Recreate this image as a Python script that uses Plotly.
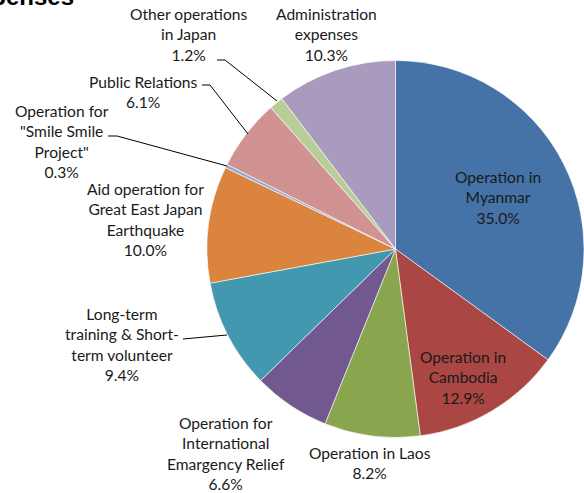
import plotly.graph_objects as go

W, H = 584, 493

categories = [
    "Operation in<br>Myanmar",
    "Operation in<br>Cambodia",
    "Operation in Laos",
    "Operation for<br>International<br>Emargency Relief",
    "Long-term<br>training & Short-<br>term volunteer",
    "Aid operation for<br>Great East Japan<br>Earthquake",
    "Operation for<br>\"Smile Smile<br>Project\"",
    "Public Relations",
    "Other operations<br>in Japan",
    "Administration<br>expenses",
]
values = [35.0, 12.9, 8.2, 6.6, 9.4, 10.0, 0.3, 6.1, 1.2, 10.3]
colors = ["#4572A7", "#AA4643", "#89A54E", "#71588F", "#4198AF",
          "#DB843D", "#93A9CF", "#D19392", "#B9CD96", "#A99BBD"]

# label block centers (pixels)
label_pos = [(498, 197), (463, 377), (370, 463), (226, 453), (122, 344),
             (145, 220), (62, 141), (143, 92), (188, 34), (326, 34)]

# leader lines (pixels)
leaders = [
    None, None, None, None,
    [(183, 339), (227, 335)],
    None,
    [(108, 136), (117, 136), (227, 166)],
    [(202, 85), (210, 85), (248, 134)],
    [(217, 60), (225, 60), (277, 101)],
    None,
]

fig = go.Figure(go.Pie(
    labels=[c.replace("<br>", " ") for c in categories],
    values=values,
    sort=False,
    direction="clockwise",
    rotation=0,
    marker=dict(colors=colors, line=dict(color="white", width=0.6)),
    textinfo="none",
    hoverinfo="label+percent",
    showlegend=False,
    domain=dict(x=[207 / W, 1], y=[(H - 438) / H, (H - 60) / H]),
))

font_family = "Lato, 'Liberation Sans', sans-serif"
anns = []
for cat, v, (px, py) in zip(categories, values, label_pos):
    anns.append(dict(
        x=px / W, y=1 - py / H, xref="paper", yref="paper",
        text=f"{cat}<br>{v:.1f}%", showarrow=False,
        font=dict(family=font_family, size=15.6, color="#1a1a1a"),
        xanchor="center", yanchor="middle", align="center",
    ))

anns.append(dict(
    x=76 / W, y=1 - 12 / H, xref="paper", yref="paper",
    text="<b>Expenses</b>", showarrow=False,
    font=dict(family="'Liberation Sans', Arial, sans-serif", size=24, color="black"),
    xanchor="right", yanchor="bottom",
))

shapes = []
for pts in leaders:
    if not pts:
        continue
    path = "M " + " L ".join(f"{x / W:.5f},{1 - y / H:.5f}" for x, y in pts)
    shapes.append(dict(type="path", xref="paper", yref="paper", path=path,
                       line=dict(color="black", width=1)))

fig.update_layout(
    width=W, height=H,
    margin=dict(l=0, r=0, t=0, b=0, pad=0),
    paper_bgcolor="white", plot_bgcolor="white",
    annotations=anns, shapes=shapes,
)

fig.write_html("out.html",
               config={"displayModeBar": False},
               post_script="document.body.style.margin='0';document.body.style.overflow='hidden';")
